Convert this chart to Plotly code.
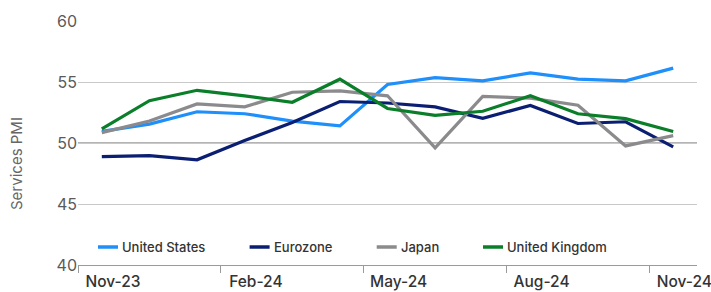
import plotly.graph_objects as go

months = ["Nov-23", "Dec-23", "Jan-24", "Feb-24", "Mar-24", "Apr-24", "May-24",
          "Jun-24", "Jul-24", "Aug-24", "Sep-24", "Oct-24", "Nov-24"]
series_names = ["United States", "Eurozone", "Japan", "United Kingdom"]
us = [50.95, 51.55, 52.56, 52.4, 51.8, 51.4, 54.8, 55.36, 55.1, 55.74, 55.23, 55.1, 56.14]
eurozone = [48.88, 48.96, 48.62, 50.2, 51.68, 53.4, 53.28, 52.96, 52.03, 53.07, 51.6, 51.74, 49.68]
japan = [50.85, 51.8, 53.2, 52.96, 54.16, 54.27, 53.87, 49.6, 53.82, 53.68, 53.1, 49.76, 50.6]
uk = [51.15, 53.47, 54.32, 53.87, 53.34, 55.23, 52.83, 52.27, 52.6, 53.87, 52.4, 52.0, 50.94]
tick_labels = ["Nov-23", "Feb-24", "May-24", "Aug-24", "Nov-24"]
y_ticks = [40, 45, 50, 55, 60]

colors = ["#1E8FFB", "#0B1F72", "#8B8B8D", "#0B7E2A"]
values = [us, eurozone, japan, uk]

x_idx = list(range(len(months)))
tick_pos = [months.index(m) - 0.5 for m in tick_labels]

fig = go.Figure()
for name, vals, col in zip(series_names, values, colors):
    fig.add_trace(go.Scatter(
        x=x_idx, y=vals, mode="lines", name=name,
        line=dict(color=col, width=3.2),
        customdata=months, hovertemplate="%{customdata}: %{y}<extra>" + name + "</extra>",
        showlegend=False,
    ))

W, H = 711, 292
ml, mr, mt, mb = 78, 14, 21, 27
pw = W - ml - mr
ph = H - mt - mb

def px_to_paper_x(px):
    return (px - ml) / pw

def px_to_paper_y(py):
    return (H - mb - py) / ph

shapes = []
annotations = []
# darker 50 reference line
shapes.append(dict(type="line", xref="paper", yref="y", x0=0, x1=1, y0=50, y1=50,
                   line=dict(color="#9b9b9b", width=1.6), layer="below"))

# manual legend
leg_line_x = [98, 249.6, 376.7, 483]
leg_y = px_to_paper_y(247)
for name, col, lx in zip(series_names, colors, leg_line_x):
    shapes.append(dict(type="line", xref="paper", yref="paper",
                       x0=px_to_paper_x(lx), x1=px_to_paper_x(lx + 20),
                       y0=leg_y, y1=leg_y, line=dict(color=col, width=3.5)))
    annotations.append(dict(text=name, xref="paper", yref="paper",
                            x=px_to_paper_x(lx + 22), y=leg_y, xanchor="left", yanchor="middle",
                            showarrow=False,
                            font=dict(family="Inter", size=13, color="#333333", weight=500)))

annotations.append(dict(text="Services PMI", xref="paper", yref="paper",
                        x=px_to_paper_x(16), y=px_to_paper_y(164), textangle=-90,
                        xanchor="center", yanchor="middle", showarrow=False,
                        font=dict(family="Inter", size=15, color="#666666")))

fig.update_layout(
    width=W, height=H,
    margin=dict(l=ml, r=mr, t=mt, b=mb, autoexpand=False),
    paper_bgcolor="white", plot_bgcolor="white",
    showlegend=False,
    shapes=shapes, annotations=annotations,
    font=dict(family="Inter"),
)
fig.update_xaxes(
    range=[-0.5, 12.5], tickmode="array", tickvals=tick_pos, ticktext=tick_labels,
    automargin=False, ticklabeloverflow="allow",
    showgrid=False, zeroline=False, showline=True, linecolor="#9a9a9a", linewidth=1.2,
    ticks="outside", ticklen=7, tickcolor="#9a9a9a", tickwidth=1.2,
    ticklabelshift=35, ticklabelstandoff=-5,
    tickfont=dict(family="Inter", size=15.5, color="#333333", weight=500),
)
fig.update_yaxes(
    range=[40, 60], tickmode="array", tickvals=y_ticks,
    automargin=False,
    showgrid=True, gridcolor="#c9c9c9", gridwidth=1.2, zeroline=False, showline=False,
    tickfont=dict(family="Inter", size=16, color="#5a5a5a"),
)

fig.write_html("out.html", post_script="document.body.style.margin='0';",
               config={"displayModeBar": False})
